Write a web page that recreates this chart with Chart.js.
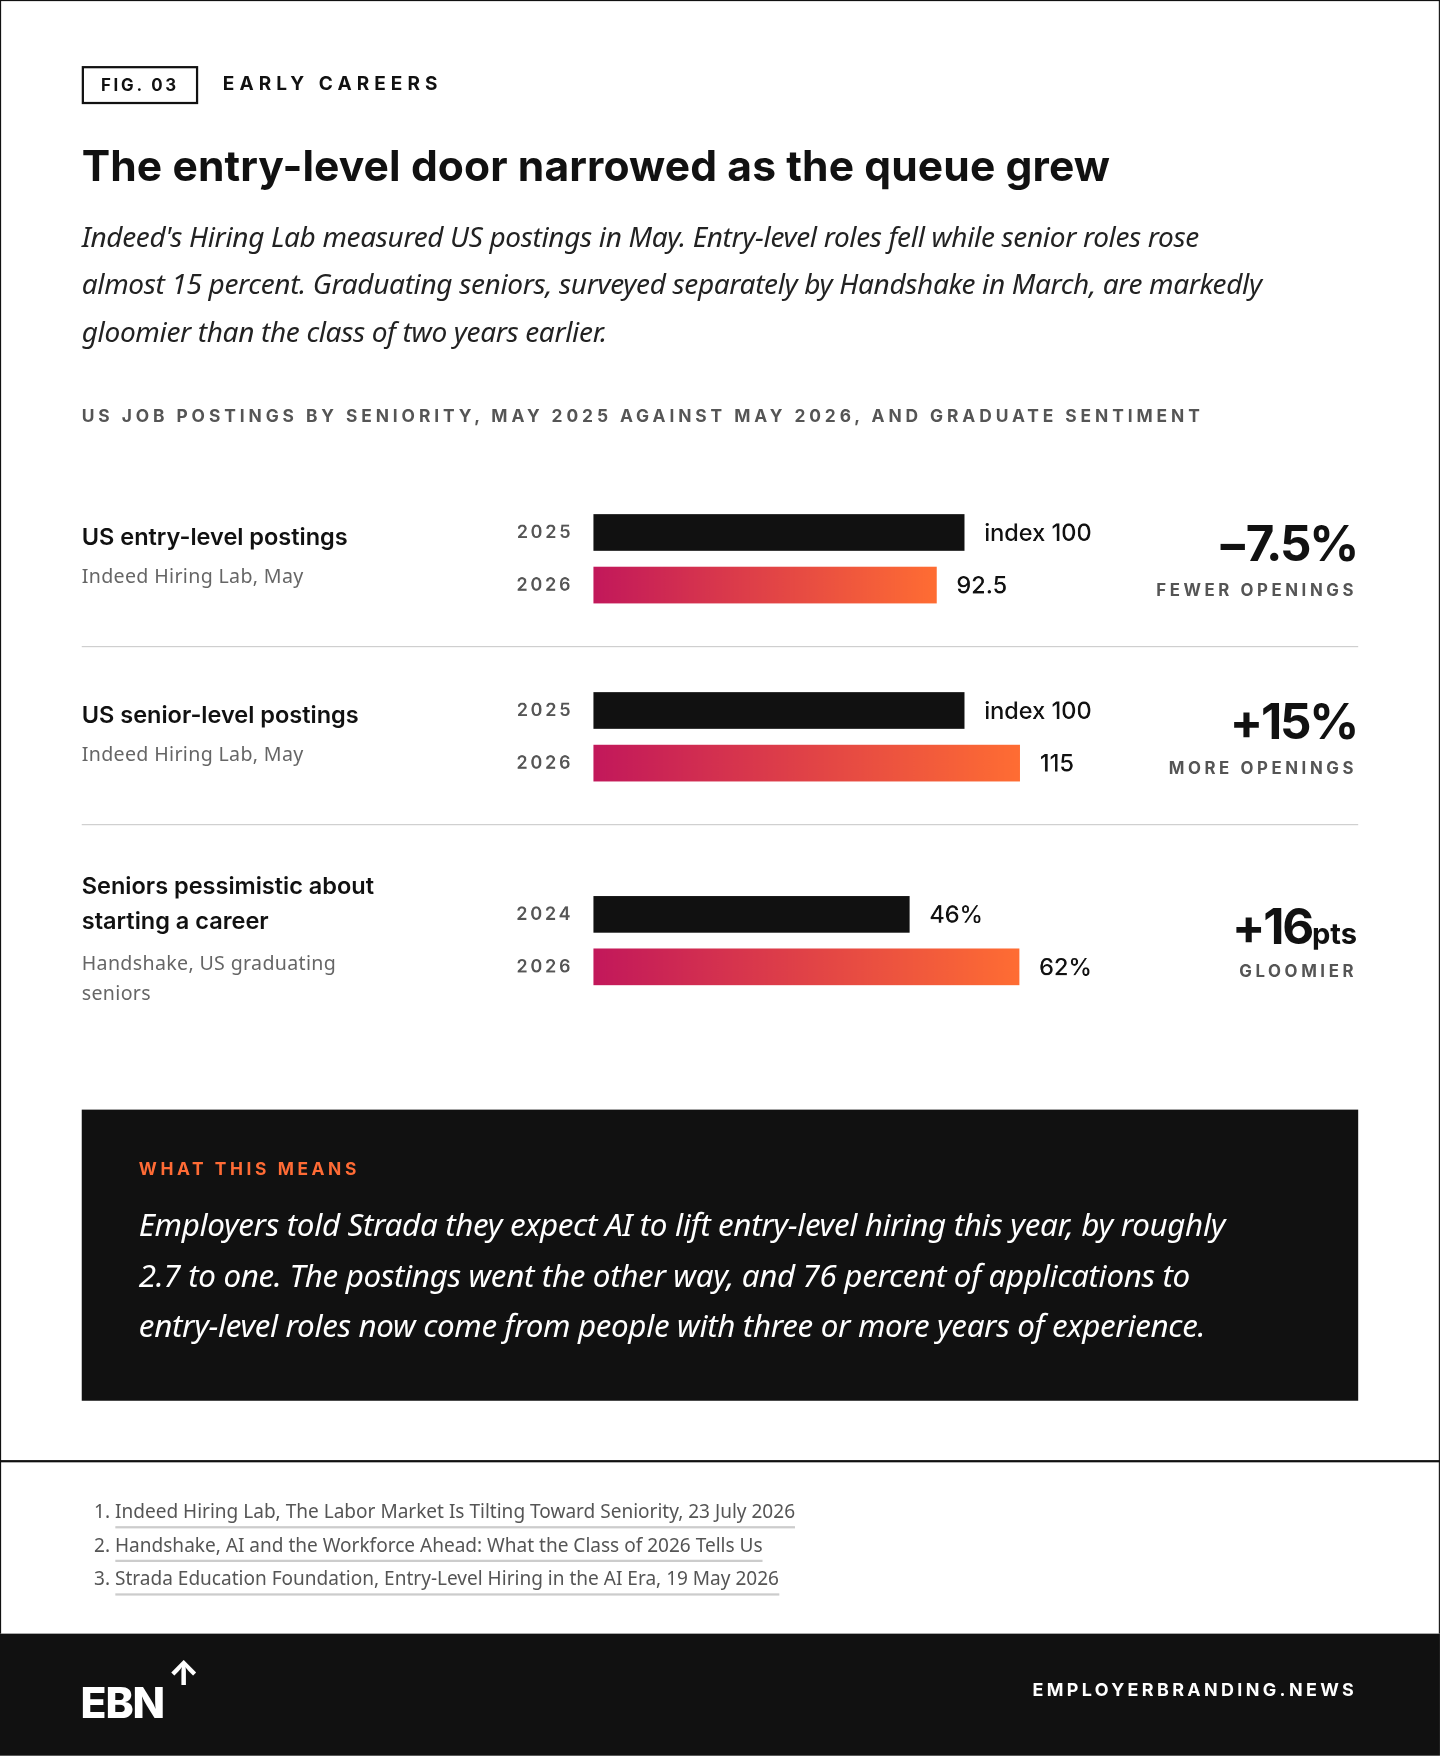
<!DOCTYPE html>
<html><head><meta charset="utf-8">
<script src="https://cdn.jsdelivr.net/npm/chart.js@4"></script>
<style>
body{margin:0;background:#fff;width:1440px;height:1756px;overflow:hidden;}
#wrap{position:absolute;left:0;top:0;width:1286px;height:1568px;transform:scale(1.1197);transform-origin:0 0;font-family:Inter,"Noto Sans",sans-serif;color:#111;}
.abs{position:absolute;}
.frame{left:0;top:0;width:1284px;height:1458px;border:1px solid #111;border-bottom:none;}
.fig{left:73px;top:59px;width:100px;height:30px;border:2px solid #111;font-weight:700;font-size:15px;letter-spacing:2.5px;line-height:30px;text-align:center;}
.kick{left:199px;top:64px;font-weight:700;font-size:17px;letter-spacing:4.5px;}
h1{position:absolute;left:73px;top:125px;margin:0;font-size:38px;font-weight:700;letter-spacing:0.1px;}
.sub{left:73px;top:190px;width:1075px;font-family:"Noto Sans";font-style:italic;font-size:25px;line-height:42px;color:#222;letter-spacing:-0.3px;}
.sec{left:73px;top:362px;font-size:15.5px;font-weight:700;letter-spacing:3.5px;color:#555;}
.rt{font-size:21px;font-weight:600;line-height:32px;left:73px;}
.src{font-family:"Noto Sans";font-size:17.5px;color:#666;line-height:27px;left:73px;letter-spacing:0.3px;}
.big{right:74px;font-size:44px;font-weight:700;letter-spacing:-2px;text-align:right;}
.big small{font-size:26px;letter-spacing:0;}
.cap{right:74px;font-size:15px;font-weight:700;letter-spacing:3.2px;color:#555;text-align:right;}
.rule{left:73px;width:1140px;height:1px;background:#ccc;}
.cw{position:absolute;left:455px;width:560px;height:94px;}
.box{left:73px;top:991px;width:1140px;height:260px;background:#111;}
.wt{left:124px;top:1034px;color:#ff6b35;font-size:15.5px;font-weight:700;letter-spacing:3.2px;}
.quote{left:124px;top:1071px;width:1000px;color:#fff;font-family:"Noto Sans";font-style:italic;font-size:28px;line-height:45px;letter-spacing:-0.3px;}
.hr{left:0;top:1304px;width:1286px;height:2px;background:#111;}
.notes{left:84px;top:1335px;font-family:"Noto Sans";font-size:17px;color:#555;line-height:30px;}
.notes span{border-bottom:2px solid #ccc;padding-bottom:2px;}
.foot{left:0;top:1459px;width:1286px;height:109px;background:#111;}
.logo{left:72px;top:1497px;color:#fff;font-size:38px;font-weight:800;letter-spacing:-1px;}
.arrow{left:150px;top:1476px;color:#fff;font-size:30px;font-weight:800;}
.site{right:74px;top:1499px;color:#fff;font-size:16px;font-weight:700;letter-spacing:3px;}
</style></head><body>
<div id="wrap">
<div class="abs frame"></div>
<div class="abs fig">FIG. 03</div>
<div class="abs kick">EARLY CAREERS</div>
<h1>The entry-level door narrowed as the queue grew</h1>
<div class="abs sub">Indeed's Hiring Lab measured US postings in May. Entry-level roles fell while senior roles rose almost 15 percent. Graduating seniors, surveyed separately by Handshake in March, are markedly gloomier than the class of two years earlier.</div>
<div class="abs sec">US JOB POSTINGS BY SENIORITY, MAY 2025 AGAINST MAY 2026, AND GRADUATE SENTIMENT</div>

<div class="abs rt" style="top:464px">US entry-level postings</div>
<div class="abs src" style="top:501px">Indeed Hiring Lab, May</div>
<div class="abs big" style="top:458px">−7.5%</div>
<div class="abs cap" style="top:517px">FEWER OPENINGS</div>
<div class="abs rule" style="top:577px"></div>

<div class="abs rt" style="top:623px">US senior-level postings</div>
<div class="abs src" style="top:660px">Indeed Hiring Lab, May</div>
<div class="abs big" style="top:617px">+15%</div>
<div class="abs cap" style="top:676px">MORE OPENINGS</div>
<div class="abs rule" style="top:736px"></div>

<div class="abs rt" style="top:775px">Seniors pessimistic about<br>starting a career</div>
<div class="abs src" style="top:846px">Handshake, US graduating<br>seniors</div>
<div class="abs big" style="top:800px">+16<small>pts</small></div>
<div class="abs cap" style="top:858px">GLOOMIER</div>

<div class="cw" style="top:451.5px"><canvas id="c1"></canvas></div>
<div class="cw" style="top:610.5px"><canvas id="c2"></canvas></div>
<div class="cw" style="top:792.5px"><canvas id="c3"></canvas></div>

<div class="abs box"></div>
<div class="abs wt">WHAT THIS MEANS</div>
<div class="abs quote">Employers told Strada they expect AI to lift entry-level hiring this year, by roughly 2.7 to one. The postings went the other way, and 76 percent of applications to entry-level roles now come from people with three or more years of experience.</div>
<div class="abs hr"></div>
<div class="abs notes">1. <span>Indeed Hiring Lab, The Labor Market Is Tilting Toward Seniority, 23 July 2026</span><br>2. <span>Handshake, AI and the Workforce Ahead: What the Class of 2026 Tells Us</span><br>3. <span>Strada Education Foundation, Entry-Level Hiring in the AI Era, 19 May 2026</span></div>
<div class="abs foot"></div>
<div class="abs logo">EBN</div>
<div class="abs arrow">↑</div>
<div class="abs site">EMPLOYERBRANDING.NEWS</div>
</div>
<script>
const entryYears = ['2025', '2026'];
const entryValues = [100, 92.5];
const entryLabels = ['index 100', '92.5'];
const seniorYears = ['2025', '2026'];
const seniorValues = [100, 115];
const seniorLabels = ['index 100', '115'];
const gradYears = ['2024', '2026'];
const gradValues = [46, 62];
const gradLabels = ['46%', '62%'];

function makeRow(id, years, values, labels, max) {
    let cv = document.getElementById(id);
    let valuePlugin = {
        id: 'vals',
        beforeDraw(chart) { chart.ctx.letterSpacing = '2.5px'; },
        afterDatasetsDraw(chart) {
            let ctx = chart.ctx;
            ctx.save();
            ctx.letterSpacing = '0px';
            ctx.font = '500 21px Inter';
            ctx.fillStyle = '#111';
            ctx.textBaseline = 'middle';
            chart.getDatasetMeta(0).data.forEach((b, i) => {
                ctx.fillText(labels[i], b.x + 18, b.y + 1);
            });
            ctx.restore();
        }
    };
    new Chart(cv, {
        type: 'bar',
        data: {
            labels: years,
            datasets: [{
                data: values,
                barThickness: 32,
                backgroundColor: function (c) {
                    if (c.dataIndex === 0) return '#111';
                    let a = c.chart.chartArea;
                    let xs = c.chart.scales.x;
                    if (!a || !xs) return '#d6304f';
                    let end = xs.getPixelForValue(c.raw);
                    if (!isFinite(end) || !isFinite(a.left)) return '#d6304f';
                    let g = c.chart.ctx.createLinearGradient(a.left, 0, end, 0);
                    g.addColorStop(0, '#c2185b');
                    g.addColorStop(1, '#ff6d33');
                    return g;
                }
            }]
        },
        options: {
            indexAxis: 'y',
            responsive: true,
            maintainAspectRatio: false,
            devicePixelRatio: 2,
            animation: false,
            layout: { padding: { right: 85, top: 0, bottom: 0 } },
            plugins: { legend: { display: false }, tooltip: { enabled: false } },
            scales: {
                x: { display: false, min: 0, max: max },
                y: {
                    grid: { display: false }, border: { display: false },
                    afterFit(s) { s.width = 75; s.paddingTop = 0; s.paddingBottom = 0; },
                    ticks: { color: '#555', font: { size: 16, weight: '600', family: 'Inter' }, padding: 10 }
                }
            }
        },
        plugins: [valuePlugin]
    });
}
makeRow('c1', entryYears, entryValues, entryLabels, 400 / 3.31);
makeRow('c2', seniorYears, seniorValues, seniorLabels, 400 / 3.31);
makeRow('c3', gradYears, gradValues, gradLabels, 400 / 6.13);
</script>
</body></html>
